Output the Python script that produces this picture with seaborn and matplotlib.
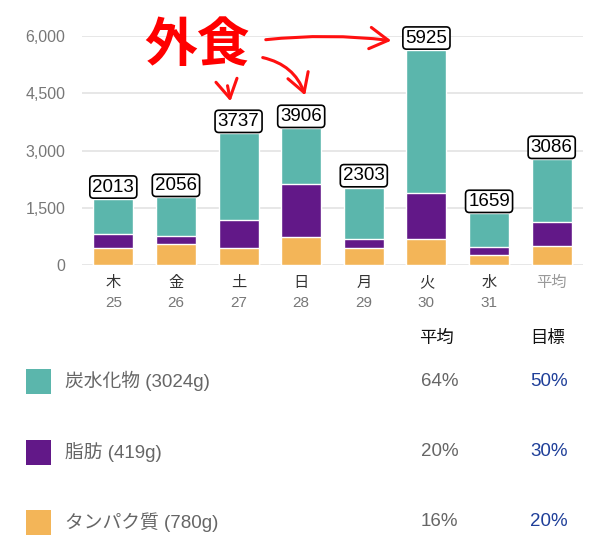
import matplotlib
matplotlib.use("Agg")
import matplotlib.pyplot as plt
import seaborn as sns
import numpy as np
import pandas as pd
from matplotlib.patches import Rectangle, FancyArrowPatch
import matplotlib.transforms as mtransforms

sns.set_style("white")
plt.rcParams['font.family'] = ['Liberation Sans', 'Noto Sans CJK JP', 'DejaVu Sans']

# ---- data ----
days = ["木", "金", "土", "日", "月", "火", "水", "平均"]
dates = ["25", "26", "27", "28", "29", "30", "31", ""]
protein = [437, 542, 437, 742, 437, 673, 262, 507]      # タンパク質 (orange)
fat = [367, 210, 742, 1380, 236, 1222, 218, 611]        # 脂肪 (purple)
carbs = [925, 1021, 2271, 1459, 1353, 3738, 874, 1651]  # 炭水化物 (teal)
totals = [2013, 2056, 3737, 3906, 2303, 5925, 1659, 3086]
yticks = [0, 1500, 3000, 4500, 6000]
ytick_labels = ["0", "1,500", "3,000", "4,500", "6,000"]

legend_names = ["炭水化物 (3024g)", "脂肪 (419g)", "タンパク質 (780g)"]
legend_avg = ["64%", "20%", "16%"]
legend_goal = ["50%", "30%", "20%"]

c_teal = "#5BB6AC"
c_purple = "#621888"
c_orange = "#F3B558"
colors = [c_teal, c_purple, c_orange]

W, H = 600, 547
fig = plt.figure(figsize=(W / 100, H / 100), dpi=100)

def px(x, y):
    return (x / W, 1 - y / H)

ax_left, ax_right, ax_top, ax_bot = 82, 583, 36, 265
ax = fig.add_axes([ax_left / W, 1 - ax_bot / H, (ax_right - ax_left) / W, (ax_bot - ax_top) / H])

df = pd.DataFrame({"day": days, "protein": protein, "fat": fat, "carbs": carbs})
df["pf"] = df["protein"] + df["fat"]
df["all"] = df["pf"] + df["carbs"]

sns.barplot(data=df, x="day", y="all", color=c_teal, width=0.64, saturation=1, ax=ax, zorder=2)
sns.barplot(data=df, x="day", y="pf", color=c_purple, width=0.64, saturation=1, ax=ax, zorder=2)
sns.barplot(data=df, x="day", y="protein", color=c_orange, width=0.64, saturation=1, ax=ax, zorder=2)

ax.set_ylim(0, 6000)
ax.set_xlim(-0.5, 7.5)
ax.set_yticks(yticks)
ax.set_yticklabels(ytick_labels, color="#777777", fontsize=11.5)
ax.tick_params(axis="y", length=0, pad=12)
ax.set_xticks([])
ax.set_xlabel("")
ax.set_ylabel("")
for s in ax.spines.values():
    s.set_visible(False)
ax.yaxis.grid(True, color="#E3E3E3", linewidth=1.2, zorder=0)
ax.set_axisbelow(True)

# bar value boxes
for i, (tot, hgt) in enumerate(zip(totals, df["all"])):
    ax.annotate(str(tot), xy=(i, hgt), xytext=(0, 2.5), textcoords="offset points",
                ha="center", va="bottom", fontsize=13.5, color="black",
                bbox=dict(boxstyle="round,pad=0.14,rounding_size=0.2", fc="white", ec="black", lw=1.2),
                zorder=5, annotation_clip=False)

# x labels
trans = mtransforms.blended_transform_factory(ax.transData, ax.transAxes)
for i, (d, n) in enumerate(zip(days, dates)):
    col = "#999999" if d == "平均" else "#333333"
    ax.text(i, -0.078, d, transform=trans, ha="center", va="center", fontsize=11, color=col)
    if n:
        ax.text(i, -0.165, n, transform=trans, ha="center", va="center", fontsize=11, color="#777777")

# red annotation
fig.text(*px(197, 46), "外食", ha="center", va="center", fontsize=38, fontweight="bold",
         color="#FF0000", family="Noto Sans CJK JP")
arrow_kw = dict(arrowstyle="->,head_length=0.6,head_width=0.35", color="#FF1010", lw=2.2,
                mutation_scale=22, transform=fig.transFigure)
fig.add_artist(FancyArrowPatch(px(263, 40), px(394, 41), connectionstyle="arc3,rad=-0.06", **arrow_kw))
fig.add_artist(FancyArrowPatch(px(260, 57), px(306, 98), connectionstyle="arc3,rad=-0.3", **arrow_kw))
fig.add_artist(FancyArrowPatch(px(227, 83), px(231, 104), connectionstyle="arc3,rad=0", **arrow_kw))

# legend table
fig.text(*px(419, 338), "平均", ha="left", va="center", fontsize=12.5, color="#111111")
fig.text(*px(530, 338), "目標", ha="left", va="center", fontsize=12.5, color="#111111")
row_y = [381, 452, 522]
for y, c, name, a, g in zip(row_y, colors, legend_names, legend_avg, legend_goal):
    x0, y0 = px(26, y + 12.5)
    fig.add_artist(Rectangle((x0, y0), 25 / W, 25 / H, transform=fig.transFigure, fc=c, ec="none"))
    fig.text(*px(65, y), name, ha="left", va="center", fontsize=13.5, color="#666666")
    fig.text(*px(421, y), a, ha="left", va="center", fontsize=13.5, color="#666666")
    fig.text(*px(530, y), g, ha="left", va="center", fontsize=13.5, color="#1F3F99")

fig.savefig("out.png", dpi=100)
